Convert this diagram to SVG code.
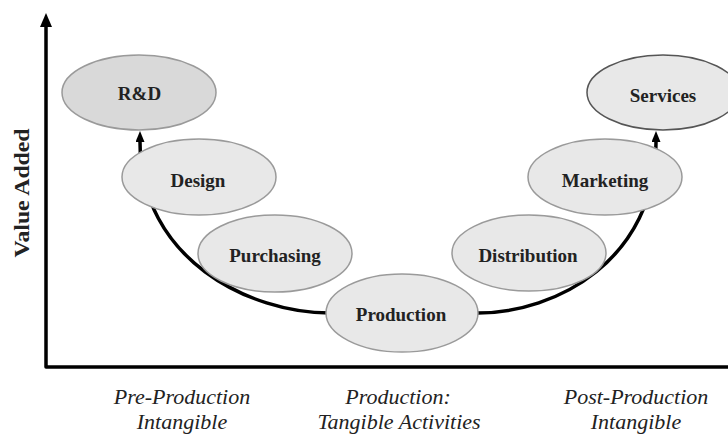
<svg xmlns="http://www.w3.org/2000/svg" width="728" height="434" viewBox="0 0 728 434">
<style>
.node{fill:#e8e8e8;stroke:#9a9a9a;stroke-width:1.5}
.lbl{font-family:"Liberation Serif","Times New Roman",serif;font-weight:bold;font-size:19px;fill:#222;text-anchor:middle}
.cap{font-family:"Liberation Serif","Times New Roman",serif;font-style:italic;font-size:22px;fill:#222;text-anchor:middle}
.curve{fill:none;stroke:#000;stroke-width:3.5}
</style>
<defs>
<marker id="ah" markerUnits="userSpaceOnUse" markerWidth="11" markerHeight="9" refX="0" refY="4.5" orient="auto" viewBox="0 0 11 9">
<path d="M0,0 L11,4.5 L0,9 z" fill="#000"/>
</marker>
</defs>
<g id="axes">
<path d="M46,24 L46,367 L728,367" fill="none" stroke="#000" stroke-width="3.5" stroke-linejoin="round"/>
<polygon points="46,13 52,27 40,27" fill="#000"/>
<text transform="translate(29,193) rotate(-90)" font-family="Liberation Serif, Times New Roman, serif" font-weight="bold" font-size="22" fill="#222" text-anchor="middle" textLength="129" lengthAdjust="spacingAndGlyphs">Value Added</text>
</g>
<g id="connectors">
<path class="curve" d="M402,313 L330,313 C250,313 140,260 140,142" marker-end="url(#ah)"/>
<path class="curve" d="M402,313 L478,313 C556,313 656,260 656,142" marker-end="url(#ah)"/>
</g>
<g id="node-rd">
<ellipse cx="139" cy="92.5" rx="77" ry="37.5" class="node" style="fill:#d9d9d9"/>
<text x="139.5" y="100" class="lbl">R&amp;D</text>
</g>
<g id="node-services">
<ellipse cx="663" cy="92.5" rx="76" ry="37.5" class="node" style="stroke:#555"/>
<text x="663" y="101.5" class="lbl">Services</text>
</g>
<g id="node-design">
<ellipse cx="199" cy="177" rx="77" ry="38" class="node"/>
<text x="198" y="186.5" class="lbl">Design</text>
</g>
<g id="node-marketing">
<ellipse cx="605" cy="177" rx="77" ry="38" class="node"/>
<text x="605" y="186.5" class="lbl">Marketing</text>
</g>
<g id="node-purchasing">
<ellipse cx="275" cy="253.5" rx="77" ry="38.5" class="node"/>
<text x="275" y="262" class="lbl">Purchasing</text>
</g>
<g id="node-distribution">
<ellipse cx="529" cy="253" rx="77" ry="38" class="node"/>
<text x="528" y="262" class="lbl">Distribution</text>
</g>
<g id="node-production">
<ellipse cx="402" cy="313" rx="76" ry="39" class="node"/>
<text x="401" y="321" class="lbl">Production</text>
</g>
<g id="captions">
<text x="182" y="404" class="cap">Pre-Production</text>
<text x="182" y="429" class="cap">Intangible</text>
<text x="398" y="404" class="cap">Production:</text>
<text x="399" y="429" class="cap">Tangible Activities</text>
<text x="636" y="404" class="cap">Post-Production</text>
<text x="636" y="429" class="cap">Intangible</text>
</g>
</svg>
